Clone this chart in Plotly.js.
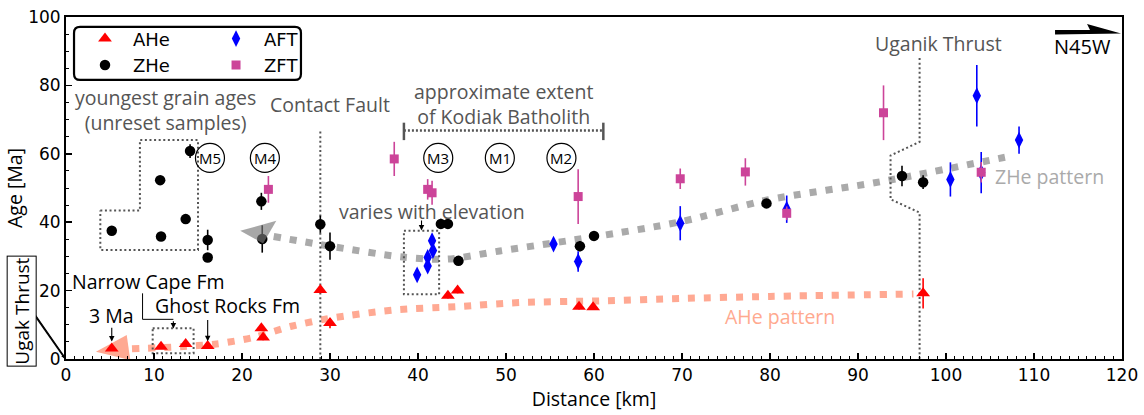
<!DOCTYPE html>
<html><head><meta charset="utf-8">
<script src="https://cdn.plot.ly/plotly-3.0.1.min.js"></script>
<style>html,body{margin:0;padding:0;background:#fff}#chart{width:1144px;height:415px}</style>
</head><body><div id="chart"></div>
<script>
// ---------- data (distance km, age Ma) ----------
const aheX = [5.2, 10.8, 13.6, 16.1, 22.2, 22.4, 28.9, 30.0, 43.4, 44.5, 58.3, 59.9, 97.4];
const aheY = [3.1, 3.6, 4.4, 3.8, 9.0, 6.3, 20.2, 10.5, 18.5, 20.0, 15.3, 15.1, 19.2];
const aheErr = [0.5, 0.5, 0.5, 0.5, 0.8, 0.8, 1.0, 1.5, 0.8, 0.8, 0.8, 0.8, 4.4];

const zheX = [5.2, 10.7, 10.8, 13.6, 14.1, 16.1, 16.1, 22.2, 22.3, 28.9, 30.0, 42.6, 43.4, 44.6, 58.4, 60.0, 79.6, 95.0, 97.4];
const zheY = [37.5, 52.3, 35.8, 40.9, 60.8, 34.8, 29.7, 46.1, 35.1, 39.4, 33.0, 39.5, 39.5, 28.7, 33.0, 36.0, 45.5, 53.5, 51.7];
const zheErr = [0, 0, 0, 0, 2, 3, 0, 2.5, 4, 2.5, 4, 1.5, 1.5, 0, 1.5, 0, 0, 3, 2];

const aftX = [39.9, 41.1, 41.1, 41.7, 41.6, 55.4, 58.2, 69.8, 81.9, 100.5, 103.5, 104.0, 108.3];
const aftY = [24.6, 27.2, 29.7, 31.7, 34.6, 33.6, 28.5, 39.7, 43.8, 52.5, 77.0, 54.5, 64.0];
const aftErr = [1, 1, 1, 1, 1.2, 1.5, 3, 5, 4, 5, 9, 6, 4];

const zftX = [23.0, 37.3, 41.1, 41.6, 58.2, 69.8, 77.2, 81.9, 92.9, 104.0];
const zftY = [49.6, 58.5, 49.6, 48.6, 47.5, 52.7, 54.7, 42.6, 72.0, 54.6];
const zftErr = [3.9, 5, 3, 3.5, 8, 3, 4, 2, 8, 3];

// interpretive age patterns
const zhePatX = [23.6, 30.0, 38.3, 43.3, 49.3, 59.9, 69.8, 79.7, 92.5, 106.7];
const zhePatY = [35.8, 33.0, 29.8, 29.2, 31.6, 35.7, 40.1, 46.5, 51.8, 59.0];
const zheHeadX = [19.8, 23.9, 22.4];
const zheHeadY = [37.5, 40.4, 33.8];

const ahePatX = [7.5, 13.0, 17.1, 21.3, 25.5, 30.0, 37.2, 44.4, 51.6, 60.7, 69.8, 80.0, 96.3];
const ahePatY = [3.0, 3.6, 4.4, 6.3, 9.5, 11.9, 14.3, 15.3, 16.5, 17.0, 17.7, 18.3, 19.0];
const aheHeadX = [3.4, 6.9, 7.3];
const aheHeadY = [2.1, 7.0, -0.3];

// structural / grouping outlines
const contactX = [28.9, 28.9], contactY = [0, 66.8];
const uganikX = [97.0, 97.0, 93.7, 93.7, 97.0, 97.0];
const uganikY = [88.0, 63.5, 59.5, 46.7, 42.8, 0];
const unresetX = [3.9, 8.4, 8.4, 15.0, 15.0, 3.9, 3.9];
const unresetY = [43.4, 43.4, 64.0, 64.0, 31.9, 31.9, 43.4];
const elevBoxX = [38.4, 42.4, 42.4, 38.4, 38.4];
const elevBoxY = [37.5, 37.5, 18.9, 18.9, 37.5];
const capeBoxX = [9.85, 14.5, 14.5, 9.85, 9.85];
const capeBoxY = [9.0, 9.0, 1.7, 1.7, 9.0];
const capeLeadX = [8.7, 8.7, 12.2];
const capeLeadY = [19.2, 11.6, 11.6];
const batholithX = [38.4, 61.06], batholithY = [66.8, 66.8];
const capLX = [38.4, 38.4], capRX = [61.06, 61.06], capY = [64.0, 69.1];

const mLabels = ['M5', 'M4', 'M3', 'M1', 'M2'];
const mX = [16.36, 22.6, 42.3, 49.3, 56.3];
const mY = [58.8, 58.8, 58.8, 58.8, 58.8];

// ---------- traces ----------
const ANN = '#555555';
function outline(x, y, dash, color, width) {
  return {x, y, type: 'scatter', mode: 'lines', hoverinfo: 'skip', showlegend: false,
    line: {color: color || ANN, width: width || 2, dash: dash || '2px,2.6px'}};
}
function points(name, x, y, err, symbol, size, color, legend) {
  return {name, x, y, type: 'scatter', mode: 'markers', legend,
    marker: {symbol, size, color, line: {width: 0}},
    error_y: {type: 'data', array: err, visible: true, thickness: 1.6, width: 0, color}};
}

const traces = [
  {x: zhePatX, y: zhePatY, type: 'scatter', mode: 'lines', showlegend: false, hoverinfo: 'skip',
   line: {color: '#aaaaaa', width: 7, dash: '7px,9px', shape: 'spline', smoothing: 0.8}},
  {x: ahePatX, y: ahePatY, type: 'scatter', mode: 'lines', showlegend: false, hoverinfo: 'skip',
   line: {color: 'rgba(255,160,135,0.9)', width: 7, dash: '7px,9px', shape: 'spline', smoothing: 0.8}},
  {x: aheHeadX, y: aheHeadY, type: 'scatter', mode: 'lines', fill: 'toself', showlegend: false, hoverinfo: 'skip',
   fillcolor: 'rgba(255,140,110,0.75)', line: {width: 0, color: 'rgba(0,0,0,0)'}},
  outline(contactX, contactY),
  outline(uganikX, uganikY),
  outline(unresetX, unresetY),
  outline(elevBoxX, elevBoxY),
  outline(capeBoxX, capeBoxY),
  outline(capeLeadX, capeLeadY, 'solid', '#000', 1),
  outline(batholithX, batholithY, '2px,2px', ANN, 2.5),
  outline(capLX, capY, 'solid', ANN, 2.5),
  outline(capRX, capY, 'solid', ANN, 2.5),
  points('AHe', aheX, aheY, aheErr, 'triangle-up', 12, '#ff0000', 'legend'),
  points('ZHe', zheX, zheY, zheErr, 'circle', 10.5, '#000000', 'legend'),
  points('AFT', aftX, aftY, aftErr, 'diamond-tall', 12, '#0000ff', 'legend2'),
  points('ZFT', zftX, zftY, zftErr, 'square', 9, '#cc4499', 'legend2'),
  {x: zheHeadX, y: zheHeadY, type: 'scatter', mode: 'lines', fill: 'toself', showlegend: false, hoverinfo: 'skip',
   fillcolor: 'rgba(120,120,120,0.65)', line: {width: 0, color: 'rgba(0,0,0,0)'}}
];

// ---------- annotations ----------
const TF = 'Open Sans, Noto Sans, sans-serif';
function txt(text, x, y, color, size, extra) {
  return Object.assign({text, x, y, xref: 'x', yref: 'y', showarrow: false,
    xanchor: 'center', yanchor: 'middle',
    font: {family: TF, size: size || 19.5, color: color || ANN}}, extra || {});
}
function arrow(x, y, ay) {
  return {text: ' ', x, y, ax: x, ay, xref: 'x', yref: 'y', axref: 'x', ayref: 'y',
    showarrow: true, arrowhead: 2, arrowsize: 1, arrowwidth: 1.1, arrowcolor: '#000',
    font: {size: 1}, standoff: 0, startstandoff: 0};
}
const annotations = [
  txt('youngest grain ages<br>(unreset samples)', 11.3, 72.9),
  txt('Contact Fault', 30.0, 74.4),
  txt('approximate extent<br>of Kodiak Batholith', 49.7, 74.7),
  txt('varies with elevation', 41.55, 43.1),
  txt('Uganik Thrust', 99.1, 92.2),
  txt('ZHe pattern', 111.8, 53.3, '#aaaaaa'),
  txt('AHe pattern', 81.1, 12.4, '#ffa98f'),
  txt('Narrow Cape Fm', 9.43, 22.8, '#000'),
  txt('Ghost Rocks Fm', 18.4, 15.6, '#000'),
  txt('3 Ma', 5.2, 12.7, '#000'),
  arrow(5.2, 5.1, 9.7),
  arrow(16.1, 5.2, 12.0),
  arrow(12.2, 8.9, 11.6),
  arrow(40.4, 37.6, 41.1),
  {text: 'N45W', x: 0.963, y: 0.915, xref: 'paper', yref: 'paper', showarrow: false,
   xanchor: 'center', yanchor: 'middle',
   font: {family: TF, size: 20, color: '#000'}},
  // leader arrow from the Ugak Thrust box to the plot origin (paper 0,0)
  {text: ' ', x: 0, y: 0, xref: 'paper', yref: 'paper', ax: -32, ay: -46,
   showarrow: true, arrowhead: 2, arrowsize: 0.8, arrowwidth: 1.2, arrowcolor: '#000',
   font: {size: 1}, standoff: 0, startstandoff: 0},
  {text: 'Ugak Thrust', x: -0.042, y: 0.1404, xref: 'paper', yref: 'paper', showarrow: false,
   xanchor: 'center', yanchor: 'middle', textangle: -90,
   bordercolor: '#000', borderwidth: 1, borderpad: 1, bgcolor: '#fff',
   font: {family: TF, size: 19, color: '#000'}}
];
mLabels.forEach((m, i) => annotations.push(txt(m, mX[i], mY[i], '#000', 15)));

// ---------- shapes ----------
const shapes = [];
mLabels.forEach((m, i) => shapes.push({type: 'circle', xref: 'x', yref: 'y',
  xsizemode: 'pixel', ysizemode: 'pixel', xanchor: mX[i], yanchor: mY[i],
  x0: -14.5, x1: 14.5, y0: -14.5, y1: 14.5, line: {color: '#000', width: 1.2}}));
// legend frame (rounded)
(function () {
  const x0 = 0.0076, x1 = 0.2225, y0 = 0.816, y1 = 0.971, rx = 0.0057, ry = 0.0175;
  shapes.push({type: 'path', xref: 'paper', yref: 'paper', line: {color: '#000', width: 2.2},
    path: `M${x0 + rx},${y1} L${x1 - rx},${y1} Q${x1},${y1} ${x1},${y1 - ry} L${x1},${y0 + ry} Q${x1},${y0} ${x1 - rx},${y0} L${x0 + rx},${y0} Q${x0},${y0} ${x0},${y0 + ry} L${x0},${y1 - ry} Q${x0},${y1} ${x0 + rx},${y1} Z`});
})();
// thin leader line from the Ugak Thrust box toward the origin
shapes.push({type: 'line', layer: 'above', xref: 'paper', yref: 'paper',
  x0: -0.0312, y0: 0.1345, x1: -0.0015, y1: 0.003, line: {color: '#000', width: 1.4}});
// N45W direction arrow
shapes.push({type: 'path', xref: 'paper', yref: 'paper', fillcolor: '#000', line: {width: 0},
  path: 'M0.9366,0.962 L0.9697,0.962 L0.9669,0.9795 L0.9991,0.9518 L0.9366,0.9488 Z'});

const tickFont = {family: 'DejaVu Sans', size: 17, color: '#000'};
const layout = {
  width: 1144, height: 415,
  margin: {l: 66, r: 22, t: 17, b: 56},
  paper_bgcolor: '#fff', plot_bgcolor: '#fff',
  hovermode: false,
  xaxis: {range: [0, 120], dtick: 10, tick0: 0, ticks: 'inside', ticklen: 6, tickwidth: 1.5, tickcolor: '#000',
    minor: {dtick: 1, ticks: 'inside', ticklen: 3, tickwidth: 1, tickcolor: '#000'},
    showline: true, linecolor: '#000', linewidth: 2, mirror: true, showgrid: false, zeroline: false,
    tickfont: tickFont,
    title: {text: 'Distance [km]', font: {family: TF, size: 19.5, color: '#000'}, standoff: 6}},
  yaxis: {range: [0, 100], dtick: 20, tick0: 0, ticks: 'inside', ticklen: 6, tickwidth: 1.5, tickcolor: '#000',
    minor: {dtick: 5, ticks: 'inside', ticklen: 3, tickwidth: 1, tickcolor: '#000'},
    showline: true, linecolor: '#000', linewidth: 2, mirror: true, showgrid: false, zeroline: false,
    tickfont: tickFont,
    title: {text: 'Age [Ma]', font: {family: TF, size: 19.5, color: '#000'}, standoff: 0}},
  legend: {x: 0.0104, y: 0.99, xanchor: 'left', yanchor: 'top', bgcolor: 'rgba(0,0,0,0)', borderwidth: 0,
    font: {family: 'DejaVu Sans', size: 18, color: '#000'}, itemwidth: 46, tracegroupgap: 0},
  legend2: {x: 0.1345, y: 0.99, xanchor: 'left', yanchor: 'top', bgcolor: 'rgba(0,0,0,0)', borderwidth: 0,
    font: {family: 'DejaVu Sans', size: 18, color: '#000'}, itemwidth: 46, tracegroupgap: 0},
  annotations, shapes
};

Plotly.newPlot('chart', traces, layout, {displayModeBar: false, staticPlot: true});
</script></body></html>
